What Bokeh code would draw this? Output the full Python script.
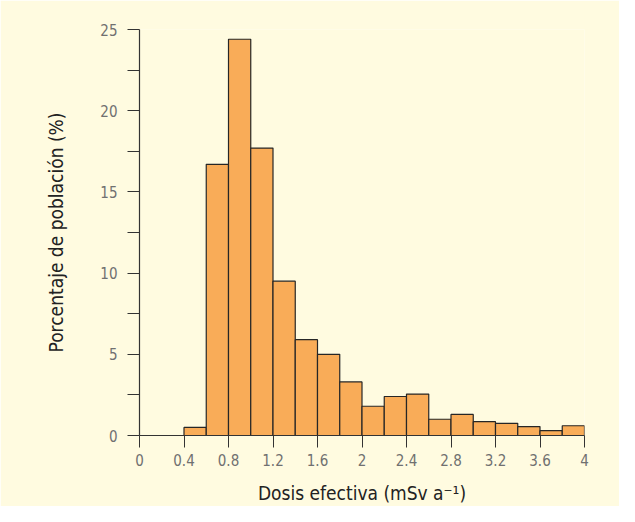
from bokeh.plotting import figure
from bokeh.models import FixedTicker, Range1d
from bokeh.embed import file_html
from bokeh.resources import INLINE

# Histogram data: bin edges (mSv/a) and percentage of population
bin_left = [0.4, 0.6, 0.8, 1.0, 1.2, 1.4, 1.6, 1.8, 2.0, 2.2, 2.4, 2.6, 2.8, 3.0, 3.2, 3.4, 3.6, 3.8]
bin_right = [0.6, 0.8, 1.0, 1.2, 1.4, 1.6, 1.8, 2.0, 2.2, 2.4, 2.6, 2.8, 3.0, 3.2, 3.4, 3.6, 3.8, 4.0]
percent = [0.5, 16.7, 24.4, 17.7, 9.5, 5.9, 5.0, 3.3, 1.8, 2.4, 2.55, 1.0, 1.3, 0.85, 0.75, 0.55, 0.3, 0.6]

x_ticks = [0, 0.4, 0.8, 1.2, 1.6, 2.0, 2.4, 2.8, 3.2, 3.6, 4.0]
x_tick_labels = ["0", "0.4", "0.8", "1.2", "1.6", "2", "2.4", "2.8", "3.2", "3.6", "4"]
y_ticks = [0, 5, 10, 15, 20, 25]
y_minor_ticks = [2.5, 7.5, 12.5, 17.5, 22.5]

BG = "#FFFBE0"
FONT = "'DejaVu Sans Condensed', 'Roboto Condensed', 'Liberation Sans Narrow', sans-serif"

p = figure(width=619, height=506, output_backend="svg", toolbar_location=None,
           x_range=Range1d(0, 4), y_range=Range1d(0, 25),
           min_border_left=139, min_border_right=35, min_border_top=29, min_border_bottom=66)
p.background_fill_color = BG
p.border_fill_color = BG
p.outline_line_color = None
p.grid.visible = False

p.quad(left=bin_left, right=bin_right, bottom=0, top=percent,
       fill_color="#F9AC58", line_color="#262626", line_width=1.2)

xa = p.xaxis[0]
xa.ticker = FixedTicker(ticks=x_ticks)
xa.major_label_overrides = {t: l for t, l in zip(x_ticks, x_tick_labels)}
xa.axis_label = "Dosis efectiva (mSv a\u207b\u00b9)"
ya = p.yaxis[0]
ya.ticker = FixedTicker(ticks=y_ticks, minor_ticks=y_minor_ticks)
ya.axis_label = "Porcentaje de población (%)"

for ax in (xa, ya):
    ax.axis_line_color = "#333333"
    ax.axis_line_width = 1.2
    ax.major_tick_line_color = "#333333"
    ax.minor_tick_line_color = "#333333"
    ax.major_tick_in = 0
    ax.minor_tick_in = 0
    ax.major_tick_out = 12
    ax.minor_tick_out = 12
    ax.major_label_text_font = FONT
    ax.major_label_text_font_size = "15px"
    ax.major_label_text_color = "#707070"
    ax.axis_label_text_font = FONT
    ax.axis_label_text_font_size = "19px"
    ax.axis_label_text_font_style = "normal"
    ax.axis_label_text_color = "#222222"
xa.minor_tick_out = 0
xa.major_label_standoff = 6
xa.axis_label_standoff = 13
ya.major_label_standoff = 10
ya.axis_label_standoff = 30

open("out.html", "w").write(file_html(p, INLINE))
